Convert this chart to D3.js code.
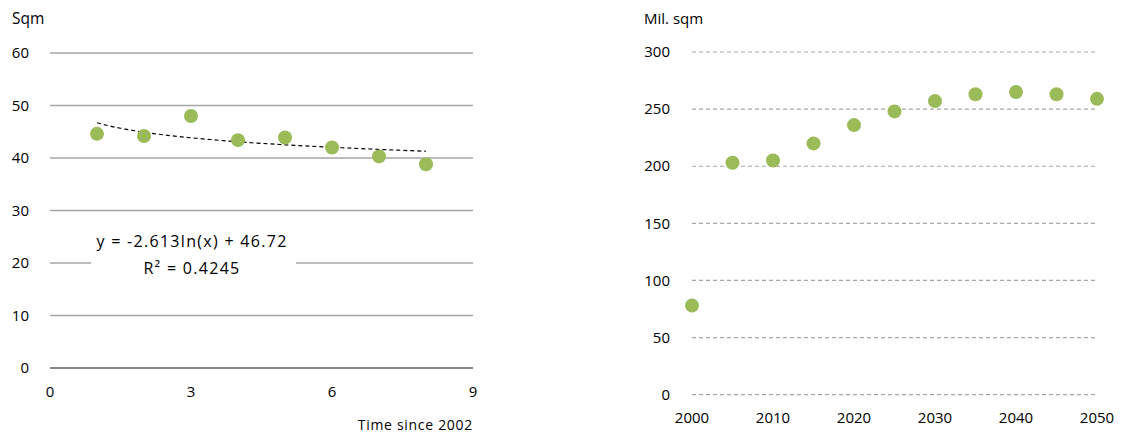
<!DOCTYPE html>
<html>
<head>
<meta charset="utf-8">
<script src="https://cdn.jsdelivr.net/npm/d3@7"></script>
<style>
  body { margin: 0; background: #fff; }
  svg text { font-family: "Open Sans", sans-serif; fill: #000; }
</style>
</head>
<body>
<svg id="chart" width="1125" height="436"></svg>
<script>
// left chart: dwelling size vs time since 2002
const timeSince = [1, 2, 3, 4, 5, 6, 7, 8];
const sqmValues = [44.6, 44.2, 48.0, 43.4, 43.9, 42.0, 40.3, 38.8];
const leftYTicks = [0, 10, 20, 30, 40, 50, 60];
const leftXTicks = [0, 3, 6, 9];
// trend line as printed on the chart
const trendA = -2.613;
const trendB = 46.72;
const trendLabel = ["y = -2.613ln(x) + 46.72", "R² = 0.4245"];

// right chart: total floor area projection
const years = [2000, 2005, 2010, 2015, 2020, 2025, 2030, 2035, 2040, 2045, 2050];
const milSqm = [78, 203, 205, 220, 236, 248, 257, 263, 265, 263, 259];
const rightYTicks = [0, 50, 100, 150, 200, 250, 300];
const rightXTicks = [2000, 2010, 2020, 2030, 2040, 2050];

const green = "#9bbb59";
const svg = d3.select("#chart");

// ---------- left chart ----------
const left = svg.append("g").attr("id", "left");
const xL = d3.scaleLinear().domain([0, 9]).range([50, 473]);
const yL = d3.scaleLinear().domain([0, 60]).range([368, 53]);

left.append("g").selectAll("line")
    .data(leftYTicks)
    .join("line")
    .attr("x1", xL(0)).attr("x2", xL(9))
    .attr("y1", d => yL(d)).attr("y2", d => yL(d))
    .attr("stroke", d => d === 0 ? "#868686" : "#a6a6a6")
    .attr("stroke-width", d => d === 0 ? 2 : 1.5);

left.append("g").selectAll("text")
    .data(leftYTicks)
    .join("text")
    .attr("x", 29)
    .attr("y", d => yL(d))
    .attr("dy", "0.35em")
    .attr("text-anchor", "end")
    .style("font-size", "15px")
    .text(d => d);

left.append("g").selectAll("text")
    .data(leftXTicks)
    .join("text")
    .attr("x", d => xL(d))
    .attr("y", 392)
    .attr("dy", "0.35em")
    .attr("text-anchor", "middle")
    .style("font-size", "15px")
    .text(d => d);

left.append("text")
    .attr("x", 12).attr("y", 19).attr("dy", "0.35em")
    .style("font-size", "15.5px")
    .text("Sqm");

left.append("text")
    .attr("x", 473).attr("y", 425).attr("dy", "0.35em")
    .attr("text-anchor", "end")
    .style("font-size", "14px")
    .style("letter-spacing", "0.7px")
    .text("Time since 2002");

// trend line, dashed
const trendX = d3.range(1, 8.01, 0.1);
const trendLine = d3.line()
    .x(d => xL(d))
    .y(d => yL(trendA * Math.log(d) + trendB));
left.append("path")
    .datum(trendX)
    .attr("d", trendLine)
    .attr("fill", "none")
    .attr("stroke", "#000")
    .attr("stroke-width", 1.2)
    .attr("stroke-dasharray", "4,3");

left.append("g").selectAll("circle")
    .data(timeSince)
    .join("circle")
    .attr("cx", d => xL(d))
    .attr("cy", (d, i) => yL(sqmValues[i]))
    .attr("r", 7)
    .attr("fill", green);

// equation label with white box over gridline
left.append("rect")
    .attr("x", 91).attr("y", 226)
    .attr("width", 205).attr("height", 56)
    .attr("fill", "#fff");
left.append("g").selectAll("text")
    .data(trendLabel)
    .join("text")
    .attr("x", 192)
    .attr("y", (d, i) => 241 + i * 27)
    .attr("dy", "0.35em")
    .attr("text-anchor", "middle")
    .style("font-size", "16px")
    .style("letter-spacing", "1.3px")
    .text(d => d);

// ---------- right chart ----------
const right = svg.append("g").attr("id", "right");
const xR = d3.scaleLinear().domain([2000, 2050]).range([692, 1097]);
const yR = d3.scaleLinear().domain([0, 300]).range([394.7, 52]);

right.append("g").selectAll("line")
    .data(rightYTicks)
    .join("line")
    .attr("x1", xR(2000)).attr("x2", xR(2050))
    .attr("y1", d => yR(d)).attr("y2", d => yR(d))
    .attr("stroke", "#a6a6a6")
    .attr("stroke-width", 1.2)
    .attr("stroke-dasharray", "4,3");

right.append("g").selectAll("text")
    .data(rightYTicks)
    .join("text")
    .attr("x", 670)
    .attr("y", d => yR(d))
    .attr("dy", "0.35em")
    .attr("text-anchor", "end")
    .style("font-size", "15px")
    .text(d => d);

right.append("g").selectAll("text")
    .data(rightXTicks)
    .join("text")
    .attr("x", d => xR(d))
    .attr("y", 418)
    .attr("dy", "0.35em")
    .attr("text-anchor", "middle")
    .style("font-size", "15px")
    .text(d => d);

right.append("text")
    .attr("x", 644).attr("y", 19).attr("dy", "0.35em")
    .style("font-size", "15px")
    .text("Mil. sqm");

right.append("g").selectAll("circle")
    .data(years)
    .join("circle")
    .attr("cx", d => xR(d))
    .attr("cy", (d, i) => yR(milSqm[i]))
    .attr("r", 7)
    .attr("fill", green);
</script>
</body>
</html>
